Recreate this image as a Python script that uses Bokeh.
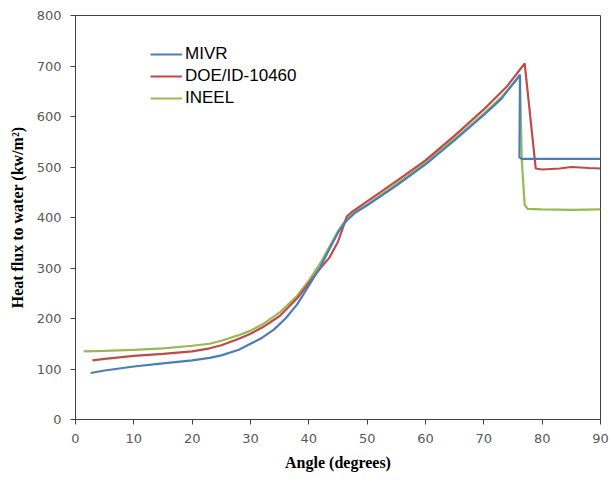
from bokeh.plotting import figure
from bokeh.models import Range1d, Legend, LegendItem, FixedTicker
from bokeh.embed import file_html
from bokeh.resources import INLINE

# MIVR
mivr_x = [2.6, 5, 10, 15, 20, 23, 25, 28, 30, 32, 34, 36, 38, 40, 42, 44, 45, 46, 46.6, 48, 50, 55, 60, 65, 70, 73, 76.2, 76.1, 76.5, 80, 85, 90]
mivr_y = [92, 97, 105, 111, 117, 122, 127, 138, 150, 162, 178, 200, 228, 265, 303, 348, 370, 387, 395, 410, 424, 463, 505, 553, 603, 635, 683, 519, 516, 516, 516, 516]

# DOE/ID-10460
doe_x = [2.9, 5, 10, 15, 20, 23, 25, 28, 30, 32, 35, 38, 40, 42, 43.5, 45, 46, 46.5, 47.5, 50, 55, 60, 65, 70, 74, 77, 78.9, 80, 83, 85, 88, 90]
doe_y = [117, 120, 126, 130, 135, 141, 147, 160, 170, 182, 205, 240, 270, 300, 320, 352, 385, 402, 412, 432, 472, 513, 562, 614, 660, 705, 497, 495, 497, 500, 498, 497]

# INEEL
ineel_x = [1.4, 5, 10, 15, 20, 23, 25, 28, 30, 32, 35, 38, 40, 42, 44, 45, 46, 46.6, 48, 50, 55, 60, 65, 70, 73, 76.2, 76.5, 77.0, 77.5, 80, 85, 90]
ineel_y = [135, 136, 138, 141, 146, 150, 156, 167, 176, 188, 212, 245, 275, 310, 352, 373, 390, 397, 412, 426, 466, 508, 556, 606, 638, 680, 515, 425, 417, 416, 415, 416]

x_ticks = [0, 10, 20, 30, 40, 50, 60, 70, 80, 90]
y_ticks = [0, 100, 200, 300, 400, 500, 600, 700, 800]

p = figure(width=611, height=483, output_backend="svg", toolbar_location=None,
           x_range=Range1d(0, 90), y_range=Range1d(0, 800),
           min_border_left=75, min_border_right=11, min_border_top=15, min_border_bottom=64)
p.background_fill_color = "white"
p.border_fill_color = "white"
p.xgrid.visible = False
p.ygrid.visible = False
p.outline_line_color = "#404040"
p.outline_line_width = 1

for ax in (p.xaxis[0], p.yaxis[0]):
    ax.axis_line_color = "#404040"
    ax.major_tick_line_color = "#404040"
    ax.minor_tick_line_color = None
    ax.major_tick_out = 5
    ax.major_tick_in = 0
    ax.major_label_text_font = "DejaVu Sans"
    ax.major_label_text_font_size = "13px"
    ax.major_label_text_color = "#595959"
    ax.axis_label_text_font = "Liberation Serif"
    ax.axis_label_text_font_style = "bold"
    ax.axis_label_text_font_size = "16px"
    ax.axis_label_text_color = "#000000"

p.xaxis.ticker = FixedTicker(ticks=x_ticks)
p.yaxis.ticker = FixedTicker(ticks=y_ticks)
p.xaxis.axis_label = "Angle (degrees)"
p.yaxis.axis_label = "Heat flux to water (kw/m\u00b2)"
p.xaxis.major_label_standoff = 9
p.yaxis.major_label_standoff = 9
p.xaxis.axis_label_standoff = 8
p.yaxis.axis_label_standoff = 8

r3 = p.line(ineel_x, ineel_y, line_color="#98b954", line_width=2.2)
r2 = p.line(doe_x, doe_y, line_color="#be4b48", line_width=2.2)
r1 = p.line(mivr_x, mivr_y, line_color="#4a7ebb", line_width=2.2)

legend = Legend(items=[LegendItem(label="MIVR", renderers=[r1]),
                       LegendItem(label="DOE/ID-10460", renderers=[r2]),
                       LegendItem(label="INEEL", renderers=[r3])],
                location=(75, 310), orientation="vertical",
                border_line_color=None, background_fill_alpha=0,
                padding=0, margin=0, spacing=0,
                glyph_width=32, glyph_height=22, label_height=22,
                label_standoff=3,
                label_text_font="Liberation Sans", label_text_font_size="17px",
                label_text_color="#000000")
p.add_layout(legend)

open("out.html", "w").write(file_html(p, INLINE))
